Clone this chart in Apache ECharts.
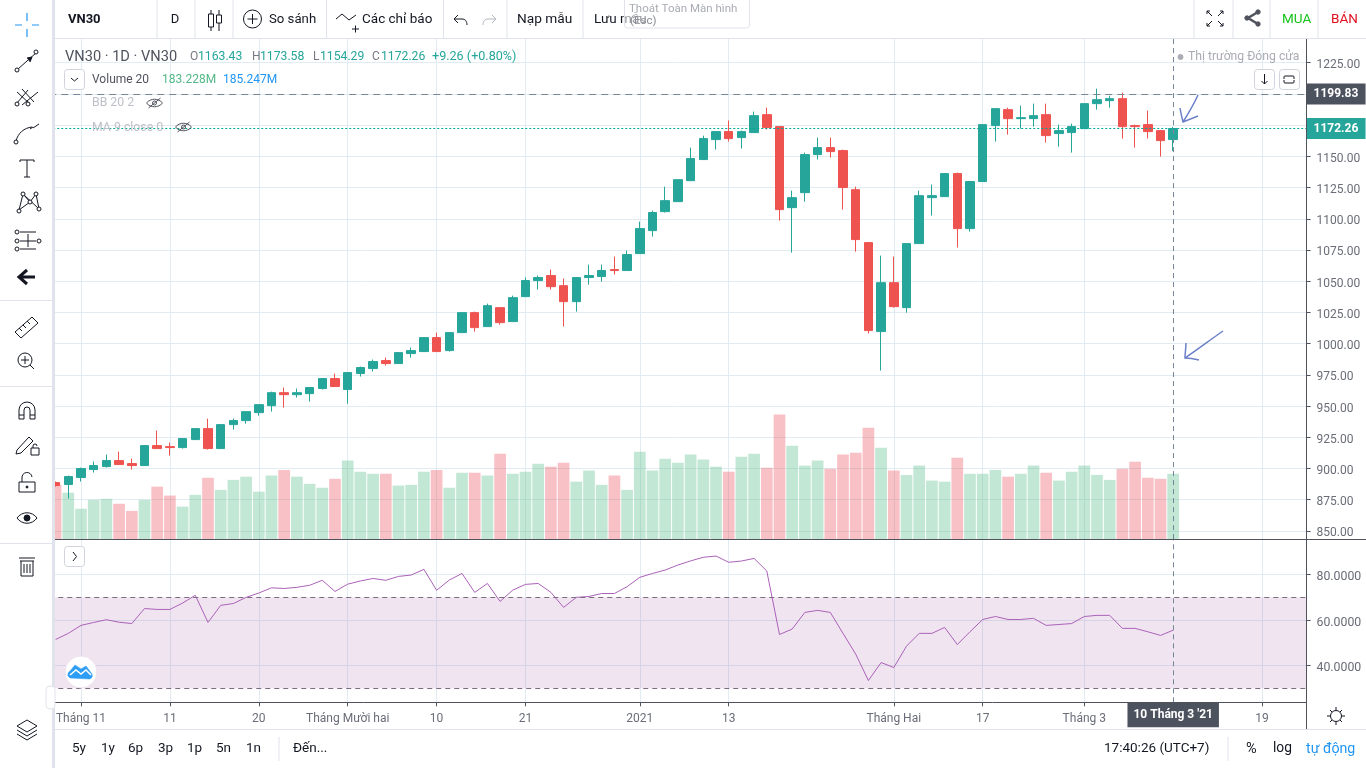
<!DOCTYPE html>
<html><head><meta charset="utf-8"><style>html,body{margin:0;padding:0;background:#fff}#c{width:1366px;height:768px}</style>
<script src="https://cdn.jsdelivr.net/npm/echarts@6/dist/echarts.min.js"></script></head>
<body><div id="c"></div>
<script>
const categories=['10-29','10-30','11-02','11-03','11-04','11-05','11-06','11-09','11-10','11-11','11-12','11-13','11-16','11-17','11-18','11-19','11-20','11-23','11-24','11-25','11-26','11-27','11-30','12-01','12-02','12-03','12-04','12-07','12-08','12-09','12-10','12-11','12-14','12-15','12-16','12-17','12-18','12-21','12-22','12-23','12-24','12-25','12-28','12-29','12-30','12-31','01-04','01-05','01-06','01-07','01-08','01-11','01-12','01-13','01-14','01-15','01-18','01-19','01-20','01-21','01-22','01-25','01-26','01-27','01-28','01-29','02-01','02-02','02-03','02-04','02-05','02-08','02-09','02-17','02-18','02-19','02-22','02-23','02-24','02-25','02-26','03-01','03-02','03-03','03-04','03-05','03-08','03-09','03-10','03-11','03-12','03-15','03-16','03-17','03-18','03-19','03-22','03-23','03-24'];
const tickDates=['11-02','11-11','11-20','12-01','12-10','12-21','01-04','01-13','02-01','02-17','03-01','03-19'];
const tickLabels=['Tháng 11','11','20','Tháng Mười hai','10','21','2021','13','Tháng Hai','17','Tháng 3','19'];
const opens=[888.7,887.1,892.7,899.1,901.5,906.3,903.9,902.3,918.3,917.5,916.7,923.1,931.9,915.9,935.1,938.3,944.7,950.3,960.7,959.1,959.9,964.0,972.0,963.2,976.0,980.0,986.4,984.0,992.0,993.6,1004.8,994.4,1008.8,1024.8,1013.6,1028.8,1017.6,1037.6,1050.5,1054.5,1046.4,1033.6,1052.9,1053.7,1059.3,1058.5,1072.1,1090.5,1105.7,1113.7,1130.5,1147.4,1163.4,1169.8,1165.0,1169.0,1183.4,1173.8,1108.9,1120.9,1151.4,1157.0,1154.6,1123.3,1080.9,1009.6,1048.8,1028.8,1080.1,1116.9,1117.7,1136.2,1092.1,1129.8,1174.6,1187.4,1180.2,1180.2,1183.4,1168.2,1169.0,1172.2,1192.2,1194.6,1196.2,1174.6,1175.4,1170.6,1163.43];
const closes=[886.3,893.5,899.9,902.3,906.3,903.1,902.3,918.3,915.9,916.7,923.9,931.9,915.9,935.1,938.3,945.5,951.1,960.7,959.1,960.7,964.8,972.0,965.6,976.8,980.8,985.6,984.0,992.8,994.4,1004.8,993.6,1008.8,1024.8,1012.8,1030.4,1016.8,1036.8,1050.5,1052.9,1045.6,1033.6,1052.9,1054.5,1058.5,1058.5,1071.3,1092.1,1105.0,1114.5,1131.3,1148.2,1164.2,1169.8,1164.2,1169.8,1182.6,1173.0,1107.3,1116.9,1151.4,1157.0,1153.8,1125.0,1083.3,1010.4,1048.8,1029.6,1080.1,1118.5,1118.5,1136.2,1092.1,1129.8,1175.4,1188.2,1180.2,1181.0,1182.6,1166.6,1170.6,1173.8,1192.2,1195.4,1196.2,1173.8,1173.8,1169.8,1162.6,1172.26];
const lows=[885.5,875.9,889.5,896.7,900.7,903.1,899.1,902.3,915.9,910.3,915.9,923.1,915.1,915.9,931.1,935.9,942.3,945.5,948.7,956.8,953.5,963.2,965.6,951.9,973.6,977.6,982.4,984.0,988.8,993.6,993.6,993.6,1008.8,1009.6,1013.6,1015.2,1017.6,1037.6,1043.2,1043.2,1013.6,1025.6,1047.2,1049.6,1055.3,1058.5,1072.1,1085.7,1105.0,1113.7,1130.5,1147.4,1155.4,1161.8,1156.2,1169.0,1171.4,1098.5,1072.9,1113.7,1147.4,1149.0,1107.3,1073.7,1008.0,978.4,1028.8,1024.8,1080.1,1102.5,1117.7,1076.9,1089.7,1129.8,1161.8,1167.4,1172.2,1173.8,1161.0,1157.8,1153.0,1172.2,1187.4,1189.0,1164.2,1157.0,1164.2,1149.8,1154.29];
const highs=[889.5,894.3,900.7,905.5,911.1,913.5,907.9,918.3,930.3,920.7,923.9,931.9,939.9,935.1,939.9,945.5,951.1,961.5,964.8,964.0,964.8,972.0,976.0,976.8,981.6,987.2,988.8,992.8,996.8,1004.8,1008.8,1008.8,1024.8,1025.6,1032.0,1028.8,1038.4,1052.9,1054.5,1059.3,1052.1,1052.9,1063.3,1063.3,1069.7,1074.5,1097.7,1106.5,1125.7,1131.3,1157.0,1166.6,1169.8,1178.6,1170.6,1185.8,1189.0,1173.8,1122.5,1153.0,1165.0,1165.0,1155.4,1125.7,1080.9,1070.5,1069.7,1080.1,1122.5,1127.4,1136.2,1137.0,1129.8,1175.4,1188.2,1189.0,1190.6,1192.2,1192.2,1175.4,1176.2,1192.2,1204.2,1198.6,1201.0,1175.4,1186.6,1170.6,1173.58];
const volumes=[152,130,85,110,113,99,79,110,147,122,91,124,172,138,166,175,133,178,194,175,155,144,169,220,189,183,183,150,152,189,194,144,186,186,178,239,183,189,211,203,214,161,192,152,178,138,245,192,225,214,237,223,203,189,231,239,200,349,262,206,220,197,237,242,312,256,192,180,206,164,161,228,183,183,194,175,183,206,186,164,189,206,180,166,197,217,172,169,183.228];
const rsi=[51.4,54.1,57.6,58.9,60.1,59.0,58.4,65.0,64.6,64.6,67.4,70.8,58.9,66.4,67.2,69.9,71.8,74.1,73.8,74.3,75.2,77.4,72.5,75.7,77.1,78.2,77.4,79.1,79.7,82.2,73.0,77.5,80.4,72.1,76.0,68.1,73.1,75.6,76.0,72.1,65.5,69.9,70.3,71.6,71.6,74.6,78.7,80.4,81.9,84.1,85.9,87.5,88.05,85.3,85.85,87.0,81.45,53.6,56.0,63.3,64.2,63.3,54.1,45.0,33.4,41.3,39.1,48.5,54.1,54.1,56.7,49.2,54.8,60.2,61.5,60.2,60.2,60.7,57.6,58.0,58.4,61.5,62.0,62.0,56.3,56.3,54.8,53.2,55.5];
const priceTicks=[850,875,900,925,950,975,1000,1025,1050,1075,1100,1125,1150,1175,1200,1225];
const priceLabels=[850,875,900,925,950,975,1000,1025,1050,1075,1100,1125,1150,1225];
const rsiTicks=[40,60,80];
const lastClose=1172.26, prevHigh=1199.83, cursorDate='03-10', cursorLabel="10 Tháng 3 '21";

const FF='Roboto,"Noto Sans",sans-serif';
const GRID='#e1ecf2', DARK='#50535e', LBL='#6a6d78', INK='#131722';
const isTick=(i,v)=>tickDates.indexOf(v)>=0;
const xBase={type:'category',data:categories,boundaryGap:true,
  axisLine:{show:false},axisTick:{show:false},axisLabel:{show:false},
  splitLine:{show:true,alignWithLabel:true,interval:isTick,lineStyle:{color:GRID,width:1}}};
const dash={color:'#758696',type:[5,4],width:1};

const g=[];
let pn=0;
const R=(x,y,w,h,fill,o)=>g.push({type:'rect',z:100,shape:{x,y,width:w,height:h,r:(o&&o.r)||0},style:{fill,stroke:(o&&o.stroke)||null,lineWidth:1},silent:true});
const T=(text,x,y,fill,size,o)=>g.push({type:'text',z:102,x,y:y+2,silent:true,style:{text,fill,font:((o&&o.weight)||'normal')+' '+size+'px '+FF,textAlign:(o&&o.align)||'left',textVerticalAlign:'middle'}});
const P=(d,stroke,lw,fill)=>{const name='ico'+(pn++);echarts.graphic.registerShape(name,echarts.graphic.extendPath(d,{}));g.push({type:name,z:102,silent:true,style:{stroke:stroke||INK,lineWidth:lw===undefined?1:lw,fill:fill||'none'}});};
const C=(x,y,r,stroke,fill)=>g.push({type:'circle',z:102,silent:true,shape:{cx:x,cy:y,r},style:{stroke:stroke||INK,lineWidth:1,fill:fill||'#fff'}});
const L=(x1,y1,x2,y2,c)=>g.push({type:'line',z:101,silent:true,shape:{x1,y1,x2,y2},style:{stroke:c||'#e0e3eb',lineWidth:1}});

// chrome backgrounds
R(0,0,52,768,'#fff');R(52,0,3,768,'#e0e3eb');
R(55,0,1311,38,'#fff');L(55,38.5,1366,38.5);
R(55,729,1311,39,'#fff');L(55,729.5,1366,729.5);
L(1306.5,39,1306.5,729,DARK);L(55,539.5,1366,539.5,DARK);
// top toolbar
[157,195,233,326.5,443.5,507,583,1194,1233,1270,1318].forEach(x=>L(x,0,x,38));
T('VN30',68,18,INK,13,{weight:'bold'});
T('D',175,18,INK,13,{align:'center'});
P('M208.5 14h5v13h-5z M211 10v4 M211 27v4 M216.5 15h5v8h-5z M219 10v5 M219 23v8');
C(252.5,19,9);P('M252.5 14v10 M247.5 19h10');
T('So sánh',269,18,INK,13.2);
P('M336 19 L342 14 L349 20 L356 15 M352 29h7 M355.5 25.5v7');
T('Các chỉ báo',362,18,INK,13.5);
P('M454 19h8c3 0 5 2 5 6 M454 19l4-4 M454 19l4 4');
P('M496 19h-8c-3 0-5 2-5 6 M496 19l-4-4 M496 19l-4 4','#b2b5be');
T('Nạp mẫu',517,18,INK,13.7);
T('Lưu mẫu',594,18,INK,13.5);
g.push({type:'rect',z:103,silent:true,shape:{x:624.5,y:-3,width:125,height:31,r:3},style:{fill:'rgba(255,255,255,.55)',stroke:'#e0e3eb',lineWidth:1}});
g.push({type:'text',z:104,x:629,y:9,silent:true,style:{text:'Thoát Toàn Màn hình',fill:'#a9acb3',font:'11.5px '+FF,textVerticalAlign:'middle'}});
g.push({type:'text',z:104,x:630,y:21,silent:true,style:{text:'(Esc)',fill:'#8a8d94',font:'11.5px '+FF,textVerticalAlign:'middle'}});
P('M1207 14v-3h3 M1220 11h3v3 M1223 23v3h-3 M1210 26h-3v-3 M1207 11l5 5 M1223 11l-5 5 M1223 26l-5-5 M1207 26l5-5');
P('M1258 12 L1248 18 L1258 24','#50535e',2.5);C(1258,12,2.2,'#50535e','#50535e');C(1258,24,2.2,'#50535e','#50535e');C(1247,18,2.2,'#50535e','#50535e');
T('MUA',1282,18,'#18c21a',13.5);T('BÁN',1331,18,'#e01020',13.5);
// left toolbar icons
P('M15 25h7 M32 25h7 M27 13v8 M27 29v8','#2196f3',1.2);
P('M18 69 L36 53');C(17,70,2);C(36,52,2);P('M27 58l5-1-2 5',INK,1,INK);
P('M17 103L28 90 M22 105L38 92 M17 92L30 104 M22 89L34 102');C(17,104,2);C(28,104,2);
P('M16 141c2-8 8-13 16-14 M33 128l6-4 M30 129l3-2');C(16,142,2);
P('M20 160h14 M27 160v17 M24 177h6 M20 160v2 M34 160v2');
P('M19 210L23 194L30 202L36 194L39 209 M19 210L30 202 M23 194L39 209');C(19,211,2);C(23,194,2);C(30,202,2);C(36,194,2);C(39,209,2);
P('M20 232h16 M20 241h16 M20 249h16 M28 234v13');C(17,232,2);C(17,241,2);C(17,249,2);C(39,241,2);
P('M20 277h15 M27 270l-8 7 8 7',INK,3);
L(0,300.5,52,300.5);L(0,386.5,52,386.5);L(0,543.5,52,543.5);
P('M15 332 L32 317 L38 323 L21 338z M19 328l3 3 M23 325l3 3 M27 321l3 3');
C(25,360,7);P('M25 356v8 M21 360h8 M30 365l4 4');
P('M19 419v-9a8 8 0 0 1 16 0v9h-5v-9a3 3 0 0 0-6 0v9z M19 415h5 M30 415h5');
P('M17 450L29 437L33 441L21 453L16 454z M31 448h8v7h-8z M33 448v-2a2 2 0 0 1 4 0');
P('M19 492v-10h16v10z M22 482v-4a5 5 0 0 1 10-1');C(27,487,1,INK,INK);
P('M17 518c5-7 15-7 20 0c-5 7-15 7-20 0z');C(27,518,3,INK,INK);
P('M20 561h14 M19 558h16 M21 561v15h12v-15 M24 564v9 M27 564v9 M30 564v9');
P('M27 720l10 6-10 6-10-6z M17 730l10 6 10-6 M17 734l10 6 10-6');
g.push({type:'rect',z:103,silent:true,shape:{x:46,y:686,width:9,height:23,r:4},style:{fill:'#fff',stroke:'#e0e3eb',lineWidth:1}});
T('‹',50.5,695,'#b2b5be',12,{align:'center'});
// legends
T('VN30 · 1D · VN30',65,55,DARK,14.6);
[['O',190,'1163.43',198],['H',252,'1173.58',260],['L',313,'1154.29',320],['C',372,'1172.26',381]].forEach(a=>{T(a[0],a[1],55,'#787b86',12);T(a[2],a[3],55,'#26a69a',12.2);});
T('+9.26 (+0.80%)',432,55,'#26a69a',12.6);
g.push({type:'rect',z:102,silent:true,shape:{x:64.5,y:69.5,width:20,height:20,r:3},style:{fill:'#fff',stroke:'#d1d4dc',lineWidth:1}});
P('M71 78l3.5 3 3.5-3');
T('Volume 20',92,78,DARK,12);T('183.228M',162,78,'#53b987',12);T('185.247M',223,78,'#2196f3',12);
T('BB 20 2',92,101,'#bdc0c7',12.3);
T('MA 9 close 0',92,126,'#bdc0c7',12.3);
[154.5,183.5].forEach((x,i)=>{const y=i?127:103;P(`M${x-8} ${y}c4-5 12-5 16 0c-4 5-12 5-16 0z M${x-6} ${y+5}L${x+6} ${y-5}`,'#50535e');C(x,y,2,'#50535e','none');});
C(1180.5,57,2.5,'#a9acb3','#a9acb3');T('Thị trường Đóng cửa',1188,55,'#a9acb3',12.2);
[[1254,'M1264.5 74v10 M1261.5 81l3 3 3-3'],[1279,'M1284 79v-2a1 1 0 0 1 1-1h8a1 1 0 0 1 1 1v2 M1284 80v2a1 1 0 0 0 1 1h8a1 1 0 0 0 1-1v-2']].forEach(a=>{g.push({type:'rect',z:102,silent:true,shape:{x:a[0]+.5,y:69.5,width:20,height:20,r:3},style:{fill:'#fff',stroke:'#d1d4dc',lineWidth:1}});P(a[1]);});
g.push({type:'rect',z:102,silent:true,shape:{x:64.5,y:546.5,width:20,height:20,r:3},style:{fill:'#fff',stroke:'#d1d4dc',lineWidth:1}});
P('M73 552l3.5 4.5-3.5 4.5');
// logo
g.push({type:'circle',z:102,silent:true,shape:{cx:81,cy:672,r:16},style:{fill:'#fff',stroke:'#efe3ee',lineWidth:1}});
P('M70 678a4 4 0 0 1 0-7l5-6 6 4 5-3 6 8a4 4 0 0 1-2 5z','#2e9ef5',0.5,'#2e9ef5');
P('M70 675l6-5 5 4 5-4 5 5','#fff',1.5);
// arrows
P('M1198 95C1193 106 1188 114 1183 122 M1180 108C1181 114 1182 118 1183 122C1188 120 1193 118 1198 116','#6c80c9',1.5);
P('M1223 331C1210 340 1197 350 1185 358 M1186 343C1186 348 1185 353 1185 358C1190 358 1195 359 1199 360','#6c80c9',1.5);
// bottom
[['5y',72],['1y',101],['6p',128],['3p',158],['1p',187],['5n',216],['1n',246]].forEach(a=>T(a[0],a[1],747,INK,13.5));
L(279,737,279,761);T('Đến...',293,747,INK,13.5);
T('17:40:26 (UTC+7)',1104,747,INK,13.5);L(1228,737,1228,761);
T('%',1246,747,INK,14.5);T('log',1273,747,INK,13.8);T('tự động',1306,747,'#2196f3',14.2);
C(1336,716,5.5);P('M1336 707v3 M1336 722v3 M1327 716h3 M1342 716h3 M1330 710l2 2 M1340 720l2 2 M1342 710l-2 2 M1332 720l-2 2');

const option={animation:false,backgroundColor:'#fff',
  grid:[{left:49.25,width:1257.3,top:38.6,height:500.5},{left:49.25,width:1257.3,top:540,height:162.3}],
  xAxis:[Object.assign({},xBase,{gridIndex:0}),
    Object.assign({},xBase,{gridIndex:1,
      axisLine:{show:true,lineStyle:{color:DARK,width:1}},
      axisTick:{show:true,alignWithLabel:true,interval:isTick,length:4,lineStyle:{color:DARK}},
      axisLabel:{show:true,interval:isTick,margin:11,color:LBL,fontFamily:FF,fontSize:12,
        formatter:v=>tickLabels[tickDates.indexOf(v)]||''}})],
  yAxis:[
    {gridIndex:0,type:'value',position:'right',min:843.4,max:1244.3,
      axisLine:{show:false},
      axisTick:{show:true,length:4,customValues:priceTicks,lineStyle:{color:DARK}},
      axisLabel:{show:true,customValues:priceLabels,margin:10,verticalAlign:'bottom',padding:[0,0,-8.5,0],color:LBL,fontFamily:FF,fontSize:12,formatter:v=>v.toFixed(2)},
      splitLine:{show:true,lineStyle:{color:GRID}}},
    {gridIndex:0,type:'value',position:'left',min:0,max:1403,show:false,splitLine:{show:false}},
    {gridIndex:1,type:'value',position:'right',min:23.85,max:95.08,
      axisLine:{show:false},
      axisTick:{show:true,length:4,customValues:rsiTicks,lineStyle:{color:DARK}},
      axisLabel:{show:true,customValues:rsiTicks,margin:10,verticalAlign:'bottom',padding:[0,0,-8.5,0],color:LBL,fontFamily:FF,fontSize:12.3,formatter:v=>v.toFixed(4)},
      splitLine:{show:true,lineStyle:{color:GRID}}}
  ],
  series:[
    {type:'bar',name:'Volume',xAxisIndex:0,yAxisIndex:1,barWidth:11.7,z:2,data:volumes.map((v,i)=>({value:v,itemStyle:{color:closes[i]>=opens[i]?'rgba(83,185,135,.35)':'rgba(235,77,92,.35)'}}))},
    {type:'candlestick',name:'VN30',xAxisIndex:0,yAxisIndex:0,barWidth:9,z:3,
      itemStyle:{color:'#26a69a',color0:'#ef5350',borderColor:'#26a69a',borderColor0:'#ef5350',borderWidth:1},
      data:opens.map((o,i)=>[o,closes[i],lows[i],highs[i]]),
      markLine:{silent:true,symbol:'none',animation:false,data:[
        {yAxis:prevHigh,lineStyle:{color:'#758696',type:[7,5],width:1},label:{show:true,position:'end',distance:0,formatter:prevHigh.toFixed(2),color:'#fff',fontFamily:FF,fontSize:12,fontWeight:'bold',backgroundColor:'#4c525e',padding:[5,7,4,7],width:45}},
        {yAxis:lastClose,lineStyle:{color:'#00a896',type:[2,2],width:1},label:{show:true,position:'end',distance:0,formatter:lastClose.toFixed(2),color:'#fff',fontFamily:FF,fontSize:12,fontWeight:'bold',backgroundColor:'#26a69a',padding:[5,7,4,7],width:45}},
        {xAxis:cursorDate,lineStyle:dash,label:{show:false}}
      ]}},
    {type:'line',name:'RSI',xAxisIndex:1,yAxisIndex:2,showSymbol:false,z:4,lineStyle:{color:'#ab62b8',width:1},data:rsi,
      markArea:{silent:true,itemStyle:{color:'rgba(153,71,153,.147)'},data:[[{yAxis:30},{yAxis:70}]]},
      markLine:{silent:true,symbol:'none',animation:false,data:[
        {yAxis:70,lineStyle:{color:'#7d6c80',type:[5,4],width:1},label:{show:false}},
        {yAxis:30,lineStyle:{color:'#7d6c80',type:[5,4],width:1},label:{show:false}},
        {xAxis:cursorDate,lineStyle:dash,label:{show:true,position:'start',distance:0,formatter:cursorLabel,color:'#fff',fontFamily:FF,fontSize:12,fontWeight:'bold',backgroundColor:'#4c525e',padding:[7,6,6,6]}}
      ]}}
  ],
  graphic:{elements:g}
};
echarts.init(document.getElementById('c'),null,{renderer:'canvas'}).setOption(option);
</script></body></html>
